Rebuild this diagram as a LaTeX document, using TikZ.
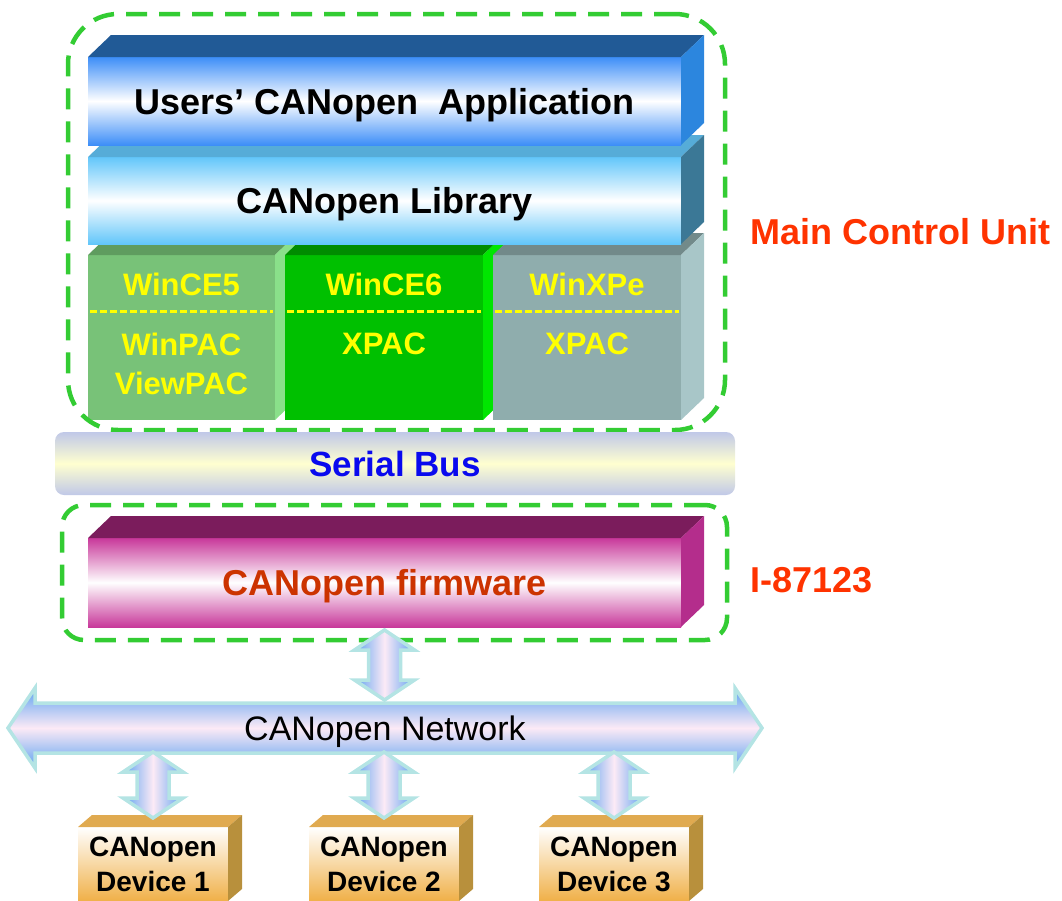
\documentclass[tikz,border=0pt]{standalone}
\usepackage{fontspec}
\setmainfont{Liberation Sans}
\usetikzlibrary{calc}

\definecolor{frontapp}{HTML}{3D8EF8}
\definecolor{topapp}{HTML}{215A96}
\definecolor{sideapp}{HTML}{2C86DE}
\definecolor{frontlib}{HTML}{62C6FA}
\definecolor{toplib}{HTML}{56ACD8}
\definecolor{sidelib}{HTML}{3B7896}
\definecolor{frontce5}{HTML}{78C278}
\definecolor{topce5}{HTML}{5F9C5F}
\definecolor{sidece5}{HTML}{8AE08A}
\definecolor{frontce6}{HTML}{00C000}
\definecolor{topce6}{HTML}{008C00}
\definecolor{sidece6}{HTML}{00E600}
\definecolor{frontxpe}{HTML}{8FADAD}
\definecolor{topxpe}{HTML}{728A8A}
\definecolor{sidexpe}{HTML}{A8C6C8}
\definecolor{frontfw}{HTML}{C8389A}
\definecolor{topfw}{HTML}{7B1C5C}
\definecolor{sidefw}{HTML}{B42D8C}
\definecolor{frontdev}{HTML}{F0B048}
\definecolor{topdev}{HTML}{E0AA50}
\definecolor{sidedev}{HTML}{B8903C}
\definecolor{busedge}{HTML}{C0C8E8}
\definecolor{busmid}{HTML}{FFFFD0}
\definecolor{bustext}{HTML}{0A0AEE}
\definecolor{fwtext}{HTML}{CC3300}
\definecolor{labelred}{HTML}{FF3300}
\definecolor{groupgreen}{HTML}{33CC33}
\definecolor{osyellow}{HTML}{FFFF00}
\definecolor{arrowblue}{HTML}{5EA2F0}
\definecolor{arrowpink}{HTML}{FCEAF6}
\definecolor{arrowrim}{HTML}{B4E4E4}

\begin{document}
\begin{tikzpicture}[
    x = 1pt, y = -1pt,
    cube/.style = {
      shape = rectangle,
      inner sep = 0pt,
      outer sep = 0pt
    },
    face/.style = {
      cube,
      text height = 26pt,
      text depth = 0pt,
      font = \fontsize{36}{40}\selectfont\bfseries
    },
    groupbox/.style = {
      draw = groupgreen,
      line width = 4.5pt,
      dash pattern = on 21pt off 12pt,
      inner sep = 0pt
    },
    oslabel/.style = {
      text = osyellow,
      align = center,
      inner sep = 0pt,
      font = \fontsize{31}{39}\selectfont\bfseries
    },
    splitline/.style = {
      draw = osyellow,
      line width = 3pt,
      dash pattern = on 7pt off 3pt
    },
    busbox/.style = {
      shape = rectangle,
      rounded corners = 9pt,
      minimum width = 680pt,
      minimum height = 63pt,
      top color = busedge,
      bottom color = busedge,
      middle color = busmid,
      text = bustext,
      text height = 25pt,
      text depth = 0pt,
      font = \fontsize{35}{40}\selectfont\bfseries
    },
    devbox/.style = {
      cube,
      minimum width = 150pt,
      minimum height = 74pt,
      top color = white,
      bottom color = frontdev,
      align = center,
      font = \fontsize{28}{35}\selectfont\bfseries
    },
    arrowbody/.style = {
      draw = arrowrim,
      line width = 3.5pt,
      line join = miter
    },
    linkarrow/.style = {
      arrowbody,
      left color = arrowblue,
      right color = arrowblue,
      middle color = arrowpink
    },
    netarrow/.style = {
      arrowbody,
      top color = arrowblue,
      bottom color = arrowblue,
      middle color = arrowpink
    },
    netname/.style = {
      inner sep = 0pt,
      text height = 25pt,
      text depth = 0pt,
      font = \fontsize{34}{40}\selectfont
    },
    unitlabel/.style = {
      anchor = west,
      inner sep = 0pt,
      text = labelred,
      font = \fontsize{36}{40}\selectfont\bfseries
    }
  ]
    \useasboundingbox (0, 0) rectangle (1062, 900);

    % operating systems
    \foreach \os/\cx/\w in {ce5/181.5/187, ce6/384/198, xpe/587/188} {
      \node[cube, minimum width = \w pt, minimum height = 165pt, fill = front\os] (\os) at (\cx, 337.5) {};
      \fill[top\os] (\os.north west) -- ++(23, -22) -- ([shift = {(23, -22)}]\os.north east) -- (\os.north east) -- cycle;
      \fill[side\os] (\os.north east) -- ++(23, -22) -- ([shift = {(23, -22)}]\os.south east) -- (\os.south east) -- cycle;
      \draw[splitline] ([shift = {(2, -26.5)}]\os.west) -- ([shift = {(-2, -26.5)}]\os.east);
    }
    \node[oslabel] (ce5name) at (181.5, 284) {WinCE5};
    \node[oslabel] (ce5pac) at (181.5, 364) {WinPAC\\ViewPAC};
    \node[oslabel] (ce6name) at (384, 284) {WinCE6};
    \node[oslabel] (ce6pac) at (384, 344) {XPAC};
    \node[oslabel] (xpename) at (587, 284) {WinXPe};
    \node[oslabel] (xpepac) at (587, 344) {XPAC};

    % library and application
    \node[face, minimum width = 593pt, minimum height = 87pt, top color = frontlib, bottom color = frontlib, middle color = white] (lib) at (384.5, 200.5) {CANopen Library};
    \fill[toplib] (lib.north west) -- ++(23, -22) -- ([shift = {(23, -22)}]lib.north east) -- (lib.north east) -- cycle;
    \fill[sidelib] (lib.north east) -- ++(23, -22) -- ([shift = {(23, -22)}]lib.south east) -- (lib.south east) -- cycle;

    \node[face, minimum width = 593pt, minimum height = 88pt, top color = frontapp, bottom color = frontapp, middle color = white] (app) at (384.5, 101) {Users’ CANopen\ \ Application};
    \fill[topapp] (app.north west) -- ++(23, -22) -- ([shift = {(23, -22)}]app.north east) -- (app.north east) -- cycle;
    \fill[sideapp] (app.north east) -- ++(23, -22) -- ([shift = {(23, -22)}]app.south east) -- (app.south east) -- cycle;

    \node[groupbox, rounded corners = 50pt, minimum width = 657pt, minimum height = 416pt] (mcu) at (396.5, 222) {};

    % serial bus and firmware
    \node[busbox] (bus) at (395, 463.5) {Serial Bus};

    \node[face, minimum width = 593pt, minimum height = 89pt, top color = frontfw, bottom color = frontfw, middle color = white, text = fwtext] (fw) at (384.5, 582.5) {CANopen firmware};
    \fill[topfw] (fw.north west) -- ++(23, -22) -- ([shift = {(23, -22)}]fw.north east) -- (fw.north east) -- cycle;
    \fill[sidefw] (fw.north east) -- ++(23, -22) -- ([shift = {(23, -22)}]fw.south east) -- (fw.south east) -- cycle;

    \node[groupbox, rounded corners = 22pt, minimum width = 665pt, minimum height = 135pt] (io) at (394.5, 572.5) {};

    % network
    \coordinate (netc) at (385, 728);
    \path[netarrow] ([shift = {(-350, -25)}]netc) -- ++(0, -15) -- ++(-27, 40) -- ++(27, 40) -- ++(0, -15)
      -- ++(700, 0) -- ++(0, 15) -- ++(27, -40) -- ++(-27, -40) -- ++(0, 15) -- cycle;
    \node[netname] (net) at (netc) {CANopen Network};

    \coordinate (fwtop) at ($(fw.south) + (0, 3)$);
    \coordinate (fwbot) at ($(fw.south |- netc) + (0, -28)$);
    \path[linkarrow] (fwtop) -- ($(fwtop) + (30, 20)$) -- ($(fwtop) + (16, 20)$) -- ($(fwbot) + (16, -20)$) -- ($(fwbot) + (30, -20)$)
      -- (fwbot) -- ($(fwbot) + (-30, -20)$) -- ($(fwbot) + (-16, -20)$) -- ($(fwtop) + (-16, 20)$) -- ($(fwtop) + (-30, 20)$) -- cycle;

    % devices
    \foreach \i/\cx in {1/153, 2/384, 3/614} {
      \node[devbox] (dev\i) at (\cx, 864) {CANopen\\Device \i};
      \fill[topdev] (dev\i.north west) -- ++(14, -12) -- ([shift = {(14, -12)}]dev\i.north east) -- (dev\i.north east) -- cycle;
      \fill[sidedev] (dev\i.north east) -- ++(14, -12) -- ([shift = {(14, -12)}]dev\i.south east) -- (dev\i.south east) -- cycle;
      \coordinate (t\i) at ($(dev\i.north |- netc) + (0, 24)$);
      \coordinate (b\i) at ($(dev\i.north) + (0, -9)$);
      \path[linkarrow] (t\i) -- ($(t\i) + (30, 20)$) -- ($(t\i) + (16, 20)$) -- ($(b\i) + (16, -20)$) -- ($(b\i) + (30, -20)$)
        -- (b\i) -- ($(b\i) + (-30, -20)$) -- ($(b\i) + (-16, -20)$) -- ($(t\i) + (-16, 20)$) -- ($(t\i) + (-30, 20)$) -- cycle;
    }

    \node[unitlabel] (mculabel) at (750, 232) {Main Control Unit};
    \node[unitlabel] (iolabel) at (750, 580) {I-87123};
  \end{tikzpicture}
\end{document}
